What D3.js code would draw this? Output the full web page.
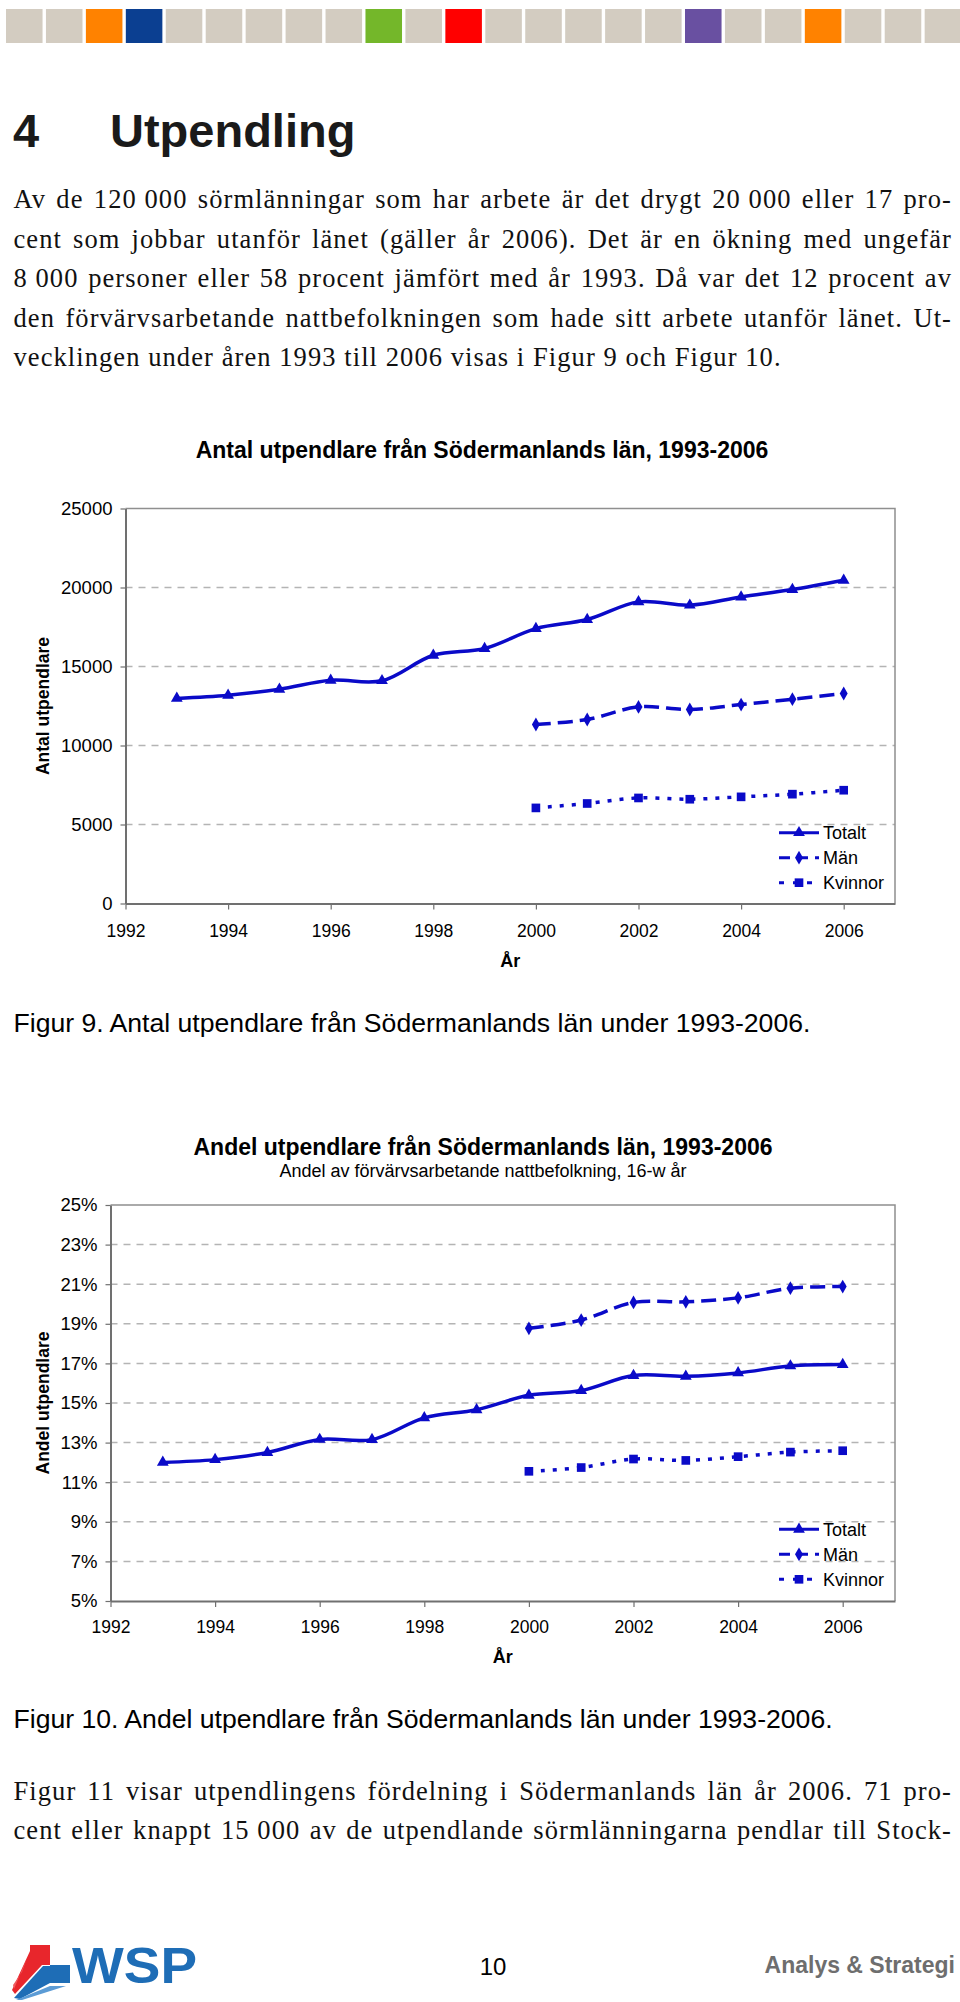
<!DOCTYPE html>
<html><head><meta charset="utf-8">
<script src="https://cdn.jsdelivr.net/npm/d3@7"></script>
<style>body{margin:0;background:#fff}svg{display:block}</style>
</head><body>
<svg id="page" width="960" height="2002"></svg>
<script>
// ---------------- data ----------------
const years = [1993, 1994, 1995, 1996, 1997, 1998, 1999, 2000, 2001, 2002, 2003, 2004, 2005, 2006];
const genderYears = [2000, 2001, 2002, 2003, 2004, 2005, 2006];
const totalCount = [12980, 13180, 13560, 14130, 14100, 15710, 16140, 17400, 17975, 19090, 18880, 19400, 19870, 20460];
const menCount = [11330, 11645, 12440, 12280, 12590, 12930, 13290];
const womenCount = [6050, 6330, 6680, 6600, 6750, 6920, 7170];
const totalShare = [12.0, 12.14, 12.5, 13.16, 13.15, 14.25, 14.66, 15.39, 15.63, 16.39, 16.35, 16.52, 16.87, 16.94];
const menShare = [18.77, 19.19, 20.08, 20.11, 20.31, 20.80, 20.88];
const womenShare = [11.55, 11.74, 12.17, 12.10, 12.29, 12.52, 12.59];
const countTicks = [0, 5000, 10000, 15000, 20000, 25000];
const shareTicks = [5, 7, 9, 11, 13, 15, 17, 19, 21, 23, 25];
const yearTicks = [1992, 1994, 1996, 1998, 2000, 2002, 2004, 2006];
const seriesNames = ["Totalt", "Män", "Kvinnor"];
const barSlots = ["g","g","o","b","g","g","g","g","g","gr","g","r","g","g","g","g","g","p","g","g","o","g","g","g"];

const topText = [
  "Av de 120\u00a0000 sörmlänningar som har arbete är det drygt 20\u00a0000 eller 17 pro-",
  "cent som jobbar utanför länet (gäller år 2006). Det är en ökning med ungefär",
  "8\u00a0000 personer eller 58 procent jämfört med år 1993. Då var det 12 procent av",
  "den förvärvsarbetande nattbefolkningen som hade sitt arbete utanför länet. Ut-",
  "vecklingen under åren 1993 till 2006 visas i Figur 9 och Figur 10."
];
const bottomText = [
  "Figur 11 visar utpendlingens fördelning i Södermanlands län år 2006. 71 pro-",
  "cent eller knappt 15\u00a0000 av de utpendlande sörmlänningarna pendlar till Stock-"
];

// ---------------- page ----------------
const SANS = "'Liberation Sans', Arial, Helvetica, sans-serif";
const SERIF = "'Liberation Serif', 'Times New Roman', serif";
const BLUE = "#0a0ac8";
const svg = d3.select("#page");
svg.append("rect").attr("width", 960).attr("height", 2002).attr("fill", "#fff");

// top colour bar
const slotColor = {g: "#d3ccc1", o: "#ff8200", b: "#0b3f91", gr: "#74b72a", r: "#ff0000", p: "#6950a1"};
const bx = d3.scaleBand().domain(d3.range(barSlots.length)).range([6, 6 + 24 * 39.8]).paddingInner(0.085);
svg.append("g").selectAll("rect").data(barSlots).join("rect")
  .attr("x", (d, i) => bx(i)).attr("y", 9).attr("width", bx.bandwidth()).attr("height", 34)
  .attr("fill", d => slotColor[d]);

// heading
svg.append("text").attr("x", 13).attr("y", 147).attr("font-family", SANS).attr("font-weight", "bold")
  .attr("font-size", 47).attr("fill", "#1a1a1a").text("4");
svg.append("text").attr("x", 110).attr("y", 147).attr("font-family", SANS).attr("font-weight", "bold")
  .attr("font-size", 47).attr("fill", "#1a1a1a").text("Utpendling");

// body text: font size / letter spacing fitted so the unjustified last line spans like the reference
const BODY_FS = 26.5;
const probe = svg.append("text").attr("font-family", SERIF).attr("font-size", BODY_FS).text(topText[4]);
const probeW = probe.node().getComputedTextLength();
probe.remove();
const LS = (768 - probeW) / topText[4].length;

function para(lines, x0, x1, y0, lh, lastJust) {
  lines.forEach((line, i) => {
    const y = y0 + i * lh;
    const words = line.split(" ");
    const t = svg.append("text").attr("y", y).attr("font-family", SERIF).attr("font-size", BODY_FS)
      .attr("letter-spacing", LS).attr("fill", "#111");
    const spans = words.map(w => t.append("tspan").text(w));
    const widths = spans.map(s => s.node().getComputedTextLength());
    const total = d3.sum(widths);
    const justify = i < lines.length - 1 || lastJust;
    const gap = justify ? (x1 - x0 - total) / (words.length - 1) : BODY_FS * 0.25 + LS;
    let x = x0;
    spans.forEach((s, k) => { s.attr("x", x); x += widths[k] + gap; });
  });
}
para(topText, 13.5, 952, 208, 39.5, false);
para(bottomText, 13.5, 952, 1800, 38.5, true);

// ---------------- charts ----------------
function drawChart(o) {
  const x = d3.scaleLinear().domain([1992, 2007]).range([o.left, o.right]);
  const y = d3.scaleLinear().domain([o.yTicks[0], o.yTicks[o.yTicks.length - 1]]).range([o.bottom, o.top]);
  const g = svg.append("g");

  g.append("text").attr("x", o.titleX).attr("y", o.titleY).attr("text-anchor", "middle")
    .attr("font-family", SANS).attr("font-weight", "bold").attr("font-size", 23).text(o.title);
  if (o.subtitle) {
    g.append("text").attr("x", o.titleX).attr("y", o.titleY + 22).attr("text-anchor", "middle")
      .attr("font-family", SANS).attr("font-size", 18).text(o.subtitle);
  }

  g.append("g").selectAll("line").data(o.yTicks.slice(1, -1)).join("line")
    .attr("x1", o.left).attr("x2", o.right).attr("y1", d => y(d)).attr("y2", d => y(d))
    .attr("stroke", "#b4b4b4").attr("stroke-width", 1.5).attr("stroke-dasharray", "7,6");

  g.append("path").attr("d", `M${o.left},${o.top}H${o.right}V${o.bottom}`)
    .attr("fill", "none").attr("stroke", "#8f8f8f").attr("stroke-width", 1.5);

  const ya = g.append("g").attr("transform", `translate(${o.left},0)`)
    .call(d3.axisLeft(y).tickValues(o.yTicks).tickSize(5).tickSizeOuter(0).tickPadding(8).tickFormat(o.fmt));
  const xa = g.append("g").attr("transform", `translate(0,${o.bottom})`)
    .call(d3.axisBottom(x).tickValues(yearTicks).tickSize(6).tickSizeOuter(0).tickPadding(o.xPad).tickFormat(d3.format("d")));
  [ya, xa].forEach(a => {
    a.select(".domain").attr("stroke", "#707070").attr("stroke-width", 2);
    a.selectAll(".tick line").attr("stroke", "#707070").attr("stroke-width", 1.2);
    a.selectAll("text").attr("font-family", SANS).attr("fill", "#000");
  });
  ya.selectAll("text").attr("font-size", 18.5);
  xa.selectAll("text").attr("font-size", 17.5);

  g.append("text").attr("x", (o.left + o.right) / 2).attr("y", o.bottom + o.xTitleOff).attr("text-anchor", "middle")
    .attr("font-family", SANS).attr("font-weight", "bold").attr("font-size", 18).text("År");
  g.append("text").attr("transform", `translate(49,${(o.top + o.bottom) / 2}) rotate(-90)`).attr("text-anchor", "middle")
    .attr("font-family", SANS).attr("font-weight", "bold").attr("font-size", 17.5).text(o.yTitle);

  const styles = [
    {dash: null, sym: d3.symbolTriangle, size: 60},
    {dash: "15,7", sym: d3.symbolDiamond, size: 55},
    {dash: "4,8", sym: d3.symbolSquare, size: 75}
  ];
  const line = d3.line().x(d => x(d[0])).y(d => y(d[1])).curve(d3.curveCatmullRom.alpha(0.5));
  o.series.forEach((s, i) => {
    const pts = s.xs.map((yr, k) => [yr, s.vals[k]]);
    g.append("path").datum(pts).attr("d", line).attr("fill", "none").attr("stroke", BLUE)
      .attr("stroke-width", 3.5).attr("stroke-dasharray", styles[i].dash).attr("stroke-linecap", "butt");
    g.append("g").selectAll("path").data(pts).join("path")
      .attr("transform", d => `translate(${x(d[0])},${y(d[1])})`)
      .attr("d", d3.symbol().type(styles[i].sym).size(styles[i].size)).attr("fill", BLUE);
  });

  const lg = g.append("g");
  seriesNames.forEach((nm, i) => {
    const ly = o.legendY + i * 25;
    lg.append("line").attr("x1", 779).attr("x2", 819).attr("y1", ly).attr("y2", ly)
      .attr("stroke", BLUE).attr("stroke-width", 3).attr("stroke-dasharray", i === 0 ? null : (i === 1 ? "11,7" : "5,9"));
    lg.append("path").attr("transform", `translate(799,${ly})`)
      .attr("d", d3.symbol().type(styles[i].sym).size(styles[i].size)).attr("fill", BLUE);
    lg.append("text").attr("x", 823).attr("y", ly).attr("dy", "0.35em")
      .attr("font-family", SANS).attr("font-size", 18).text(nm);
  });
}

drawChart({
  left: 125.5, right: 895, top: 508.5, bottom: 903.5,
  yTicks: countTicks, fmt: d3.format("d"),
  title: "Antal utpendlare från Södermanlands län, 1993-2006", titleX: 482, titleY: 458,
  yTitle: "Antal utpendlare", legendY: 832.7, xPad: 15, xTitleOff: 63,
  series: [
    {xs: years, vals: totalCount},
    {xs: genderYears, vals: menCount},
    {xs: genderYears, vals: womenCount}
  ]
});

drawChart({
  left: 110.5, right: 895, top: 1205, bottom: 1601,
  yTicks: shareTicks, fmt: d => d + "%",
  title: "Andel utpendlare från Södermanlands län, 1993-2006", titleX: 483, titleY: 1155,
  subtitle: "Andel av förvärvsarbetande nattbefolkning, 16-w år",
  yTitle: "Andel utpendlare", legendY: 1529.3, xPad: 14, xTitleOff: 62,
  series: [
    {xs: years, vals: totalShare},
    {xs: genderYears, vals: menShare},
    {xs: genderYears, vals: womenShare}
  ]
});

svg.append("text").attr("x", 13.5).attr("y", 1032).attr("font-family", SANS).attr("font-size", 26.6)
  .text("Figur 9. Antal utpendlare från Södermanlands län under 1993-2006.");
svg.append("text").attr("x", 13.5).attr("y", 1728).attr("font-family", SANS).attr("font-size", 26.6)
  .text("Figur 10. Andel utpendlare från Södermanlands län under 1993-2006.");

const logo = svg.append("g");
logo.append("polygon").attr("points", "30,1945 50,1945 50,1965 30,1965").attr("fill", "#e8262c");
logo.append("polygon").attr("points", "30,1951 30,1965 42,1965 15,1994 12,1990").attr("fill", "#e8262c");
logo.append("polygon").attr("points", "27,1958 22,1972 13,1985 14,1989").attr("fill", "#f05a5e");
logo.append("polygon").attr("points", "50,1965 70,1965 70,1983 50,1983").attr("fill", "#1e6db6");
logo.append("polygon").attr("points", "43,1966 50,1966 50,1983 20,1999 14,1998").attr("fill", "#1e6db6");
logo.append("polygon").attr("points", "50,1986 66,1986 22,2000 16,2000").attr("fill", "#5b9bd5");
logo.append("text").attr("x", 72).attr("y", 1983).attr("font-family", SANS).attr("font-weight", "bold")
  .attr("font-size", 50).attr("fill", "#1e6db6").attr("textLength", 125).attr("lengthAdjust", "spacingAndGlyphs").text("WSP");
svg.append("text").attr("x", 493).attr("y", 1975).attr("text-anchor", "middle").attr("font-family", SANS)
  .attr("font-size", 24).text("10");
svg.append("text").attr("x", 955).attr("y", 1973).attr("text-anchor", "end").attr("font-family", SANS)
  .attr("font-weight", "bold").attr("font-size", 23).attr("fill", "#6e6e6e").text("Analys & Strategi");
</script>
</body></html>
